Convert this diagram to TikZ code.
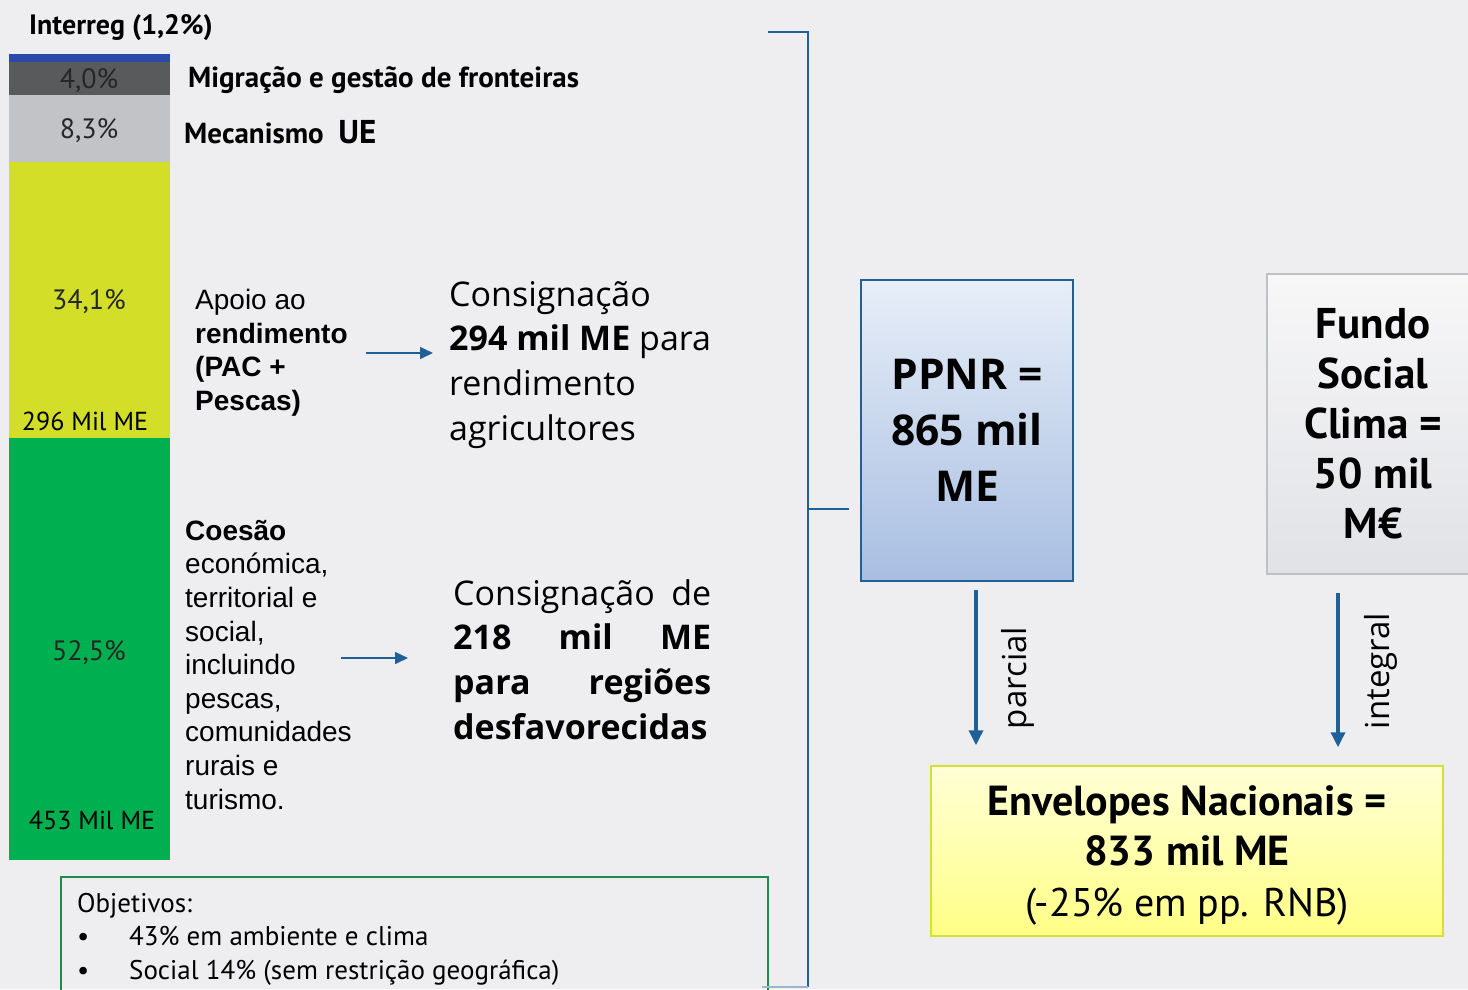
\documentclass[tikz,border=0pt]{standalone}
\usepackage{fontspec}
\setmainfont{PT Sans}
\newfontfamily\arialfont{Liberation Sans}
\newfontfamily\segoefont{Open Sans}
\usetikzlibrary{arrows.meta,positioning}
\definecolor{pagebg}{HTML}{EEEEF0}
\definecolor{interblue}{HTML}{2B4BA8}
\definecolor{migrgray}{HTML}{595A5C}
\definecolor{mecgray}{HTML}{C1C3C7}
\definecolor{pacyellow}{HTML}{D2DE27}
\definecolor{coesgreen}{HTML}{00AF50}
\definecolor{linkblue}{HTML}{1F6098}
\definecolor{ppnrtop}{HTML}{E7EEF8}
\definecolor{ppnrbot}{HTML}{A8BEE1}
\definecolor{fundotop}{HTML}{F7F7F8}
\definecolor{fundobot}{HTML}{E1E2E6}
\definecolor{fundoline}{HTML}{BFC0C4}
\definecolor{envtop}{HTML}{FFFFD6}
\definecolor{envbot}{HTML}{FFFF86}
\definecolor{envline}{HTML}{D5E035}
\definecolor{objgreen}{HTML}{1E8A4C}

\begin{document}
\begin{tikzpicture}[x=1pt, y=-1pt,
    bartext/.style={inner sep=0, text=black!85, font=\fontsize{28}{30}\selectfont},
    sidelabel/.style={anchor=west, inner sep=0, font=\bfseries\fontsize{29}{32}\selectfont},
    arialtext/.style={anchor=north west, inner sep=0, align=left, font=\arialfont\fontsize{28}{33.6}\selectfont},
    consign/.style={anchor=north west, inner sep=0, align=left, font=\segoefont\fontsize{34}{44.8}\selectfont},
    ppnrbox/.style={draw=linkblue, line width=1.5pt, top color=ppnrtop, bottom color=ppnrbot,
        minimum width=212, minimum height=301, align=center, font=\segoefont\bfseries\fontsize{42.5}{56}\selectfont},
    fundobox/.style={draw=fundoline, line width=1.5pt, top color=fundotop, bottom color=fundobot,
        minimum width=212, minimum height=300, align=center, font=\bfseries\fontsize{43}{50}\selectfont},
    envbox/.style={draw=envline, line width=1.5pt, top color=envtop, bottom color=envbot,
        minimum width=512, minimum height=170, align=center, font=\fontsize{40}{50.5}\selectfont},
    objbox/.style={draw=objgreen, line width=1.5pt, anchor=north west, minimum width=707, minimum height=140},
    objtext/.style={anchor=north west, inner sep=0, align=left, font=\fontsize{27}{33.5}\selectfont},
    flowlabel/.style={rotate=90, inner sep=0, font=\segoefont\fontsize{33}{33}\selectfont},
    bracket/.style={linkblue, line width=2pt},
    smallarrow/.style={linkblue, line width=1.6pt, -{Triangle[length=13pt,width=12pt]}},
    downarrow/.style={linkblue, line width=3.5pt, -{Triangle[length=15pt,width=14pt]}}]
\fill[pagebg] (0,0) rectangle (1468,989);
\useasboundingbox (0,0) rectangle (1468,989);

\begin{scope}
    \fill[interblue] (9,54) rectangle (170,62);
    \fill[migrgray] (9,62) rectangle (170,95);
    \fill[mecgray] (9,95) rectangle (170,162);
    \fill[pacyellow] (9,162) rectangle (170,438);
    \fill[coesgreen] (9,438) rectangle (170,860);
    \node[bartext] (pmigr) at (89,81) {4,0\%};
    \node[bartext] (pmec) at (89,131) {8,3\%};
    \node[bartext] (ppac) at (89,302) {34,1\%};
    \node[bartext, text=black, font=\fontsize{26}{30}\selectfont] (vpac) at (85,421) {296 Mil ME};
    \node[bartext] (pcoes) at (89,653) {52,5\%};
    \node[bartext, text=black, font=\fontsize{26}{30}\selectfont] (vcoes) at (92,820) {453 Mil ME};
\end{scope}

\node[sidelabel, font=\bfseries\fontsize{28}{32}\selectfont] (interreg) at (29,28) {Interreg (1,2\%)};
\node[sidelabel] (migr) at (188,80) {Migração e gestão de fronteiras};
\node[sidelabel] (mec) at (184,132) {Mecanismo\ \ {\fontsize{33}{33}\selectfont UE}};

\node[arialtext] (apoio) at (195,289) {Apoio ao\\\textbf{rendimento}\\\textbf{(PAC +}\\\textbf{Pescas)}};
\node[consign] (consA) at (449,281) {Consignação\\\textbf{294 mil ME} para\\rendimento\\agricultores};
\coordinate (a1s) at (366,353);
\draw[smallarrow] (a1s) -- (a1s -| consA.west) [shorten >=16pt];

\node[arialtext] (coes) at (185,520) {\textbf{Coesão}\\económica,\\territorial e\\social,\\incluindo\\pescas,\\comunidades\\rurais e\\turismo.};
\node[consign] (consB) at (453,579) {\makebox[258pt][s]{Consignação de}\\
    \textbf{\makebox[258pt][s]{218 mil ME}}\\\textbf{\makebox[258pt][s]{para regiões}}\\\textbf{desfavorecidas}};
\coordinate (a2s) at (341,658);
\coordinate (a2e) at (408,658);
\draw[smallarrow] (a2s) -- (a2e);

\node[objbox] (obj) at (60,876) {};
\node[objtext] (objtxt) at ([shift={(17,17)}]obj.north west)
    {Objetivos:\\\makebox[52pt][l]{•}43\% em ambiente e clima\\\makebox[52pt][l]{•}Social 14\% (sem restrição geográfica)};

\node[ppnrbox] (ppnr) at (967,430.5) {PPNR =\\865 mil\\ME};
\node[fundobox] (fundo) at (1373,424) {Fundo\\Social\\Clima =\\50 mil\\M€};
\node[envbox] (env) at (1187,851) {};
\node[align=center, inner sep=0, font=\fontsize{40}{50.5}\selectfont] (envtxt) at (1187,855)
    {\textbf{\fontsize{42}{50.5}\selectfont Envelopes Nacionais =}\\\textbf{\fontsize{42}{50.5}\selectfont 833 mil ME}\\(-25\% em pp. RNB)};

\coordinate (brk) at (808,509);
\draw[bracket] (768,32) -- (808,32) -- (808,987);
\draw[linkblue!45, line width=2pt] (808,987) -- (762,987);
\draw[bracket] (brk) -- (brk -| ppnr.west) [shorten >=11pt];

\coordinate (parc) at (976,590);
\coordinate (integ) at (1338,593);
\draw[downarrow] (parc) -- (parc |- env.north) [shorten >=20pt];
\draw[downarrow] (integ) -- (integ |- env.north) [shorten >=18pt];
\node[flowlabel] (lparc) at (1018,678) {parcial};
\node[flowlabel] (linteg) at (1381,671) {integral};
\end{tikzpicture}
\end{document}
